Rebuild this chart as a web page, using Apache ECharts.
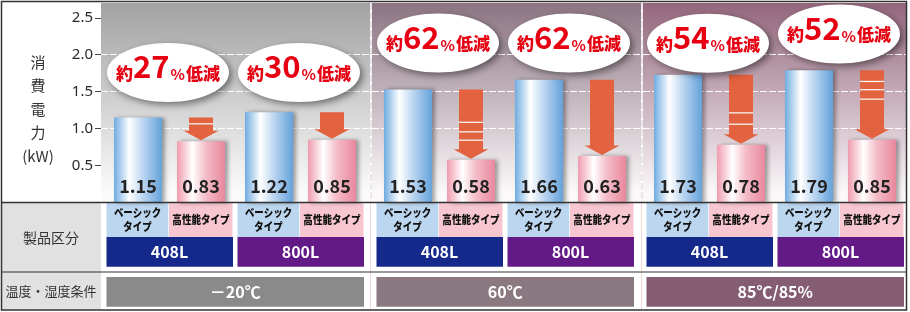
<!DOCTYPE html>
<html><head><meta charset="utf-8">
<script src="https://cdn.jsdelivr.net/npm/echarts@6/dist/echarts.min.js"></script>
<style>html,body{margin:0;padding:0;background:#fff}#c{width:910px;height:312px}</style>
</head><body><div id="c"></div>
<script>
// ---- data ----
const conditions = ['－20℃', '60℃', '85℃/85%'];
const capacities = ['408L', '800L'];
const typeLabels = ['ベーシック\nタイプ', '高性能タイプ'];
const basic = [1.15, 1.22, 1.53, 1.66, 1.73, 1.79];
const highPerf = [0.83, 0.85, 0.58, 0.63, 0.78, 0.85];
const reduction = [27, 30, 62, 62, 54, 52];
const yTicks = [0.5, 1.0, 1.5, 2.0, 2.5];
const yName = '消\n費\n電\n力\n(kW)';
const rowHeaders = ['製品区分', '温度・湿度条件'];

// ---- layout / style ----
const FAM = '"Noto Sans CJK JP","Noto Sans",sans-serif';
const panels = [[101, 370], [372, 641], [643, 906]];
const panelColors = [['#a2a2a2', '#fbfbfb'], ['#8c7482', '#fbf9fa'], ['#93667c', '#fbf8fa']];
const barGridLeft = [104, 374, 644];
const barGridW = 262;
const plotTop = 3, zeroY = 202.5;
const yMax = 2.7;
const bubbleY = [72.5, 72.5, 43, 43, 43.3, 34];
const stripes = [[0.48], [], [0.55, 0.71, 0.85], [], [0.64, 0.83], [0.19, 0.33, 0.49]];
const capColors = ['#14298a', '#631a87'];
const condColors = ['#8a8a8a', '#8a7981', '#845d73'];

const chart = echarts.init(document.getElementById('c'), null, {renderer: 'canvas'});

const grids = [], xAxes = [], yAxes = [], series = [];
panels.forEach((p, i) => {
  grids.push({left: p[0], top: plotTop, width: p[1] - p[0], height: zeroY - plotTop, show: true, borderWidth: 0,
    backgroundColor: {type: 'linear', x: 0, y: 0, x2: 0, y2: 1, colorStops: [{offset: 0, color: panelColors[i][0]}, {offset: 0.95, color: panelColors[i][1]}]}});
  xAxes.push({gridIndex: i, type: 'category', data: capacities, show: false});
  yAxes.push({gridIndex: i, type: 'value', min: 0, max: yMax, interval: 0.5,
    axisLine: {show: false},
    axisTick: {show: i === 0, length: 6, customValues: yTicks, lineStyle: {color: '#444'}},
    axisLabel: {show: i === 0, customValues: yTicks, formatter: v => v.toFixed(1), color: '#2a2a2a', fontSize: 15, fontFamily: '"Noto Sans",sans-serif', margin: 8},
    splitLine: {show: true, showMinLine: false, showMaxLine: false, lineStyle: {color: '#ffffff', type: [7, 2], width: 1}}
  });
});
barGridLeft.forEach((l, g) => {
  const gi = 3 + g;
  grids.push({left: l, top: plotTop, width: barGridW, height: zeroY - plotTop});
  xAxes.push({gridIndex: gi, type: 'category', data: capacities, show: false});
  yAxes.push({gridIndex: gi, type: 'value', min: 0, max: yMax, interval: 0.5, show: false, splitLine: {show: false}});
  const lab = {show: true, position: 'insideBottom', distance: 7, fontSize: 18, fontWeight: 'bold', color: '#222', fontFamily: FAM, formatter: d => d.value.toFixed(2)};
  const shadow = {shadowColor: 'rgba(0,0,0,0.35)', shadowBlur: 4, shadowOffsetX: 3, shadowOffsetY: 0};
  series.push({type: 'bar', name: 'ベーシックタイプ', xAxisIndex: gi, yAxisIndex: gi, barWidth: 48, barGap: '31.25%',
    data: [basic[2 * g], basic[2 * g + 1]], label: lab,
    itemStyle: Object.assign({color: new echarts.graphic.LinearGradient(0, 0, 1, 0, [
      {offset: 0, color: '#70ace0'}, {offset: 0.32, color: '#ffffff'}, {offset: 0.6, color: '#bcd6f1'}, {offset: 1, color: '#64a2db'}])}, shadow)});
  series.push({type: 'bar', name: '高性能タイプ', xAxisIndex: gi, yAxisIndex: gi, barWidth: 48, barGap: '31.25%',
    data: [highPerf[2 * g], highPerf[2 * g + 1]], label: lab,
    itemStyle: Object.assign({color: new echarts.graphic.LinearGradient(0, 0, 1, 0, [
      {offset: 0, color: '#ef9bae'}, {offset: 0.32, color: '#ffffff'}, {offset: 0.6, color: '#f4bcc8'}, {offset: 1, color: '#e9879d'}])}, shadow)});
  series.push({type: 'custom', xAxisIndex: gi, yAxisIndex: gi, z: 5,
    data: [0, 1].map(k => [k, basic[2 * g + k], highPerf[2 * g + k], 2 * g + k]),
    renderItem: (params, api) => {
      const cat = api.value(0), idx = api.value(3);
      const top = api.coord([cat, api.value(1)]);
      const tip = api.coord([cat, api.value(2)]);
      const cx = top[0] + 31.5, y0 = top[1], y1 = tip[1] - 1, yh = y1 - 9.5;
      const ch = [{type: 'polygon', shape: {points: [[cx - 12, y0], [cx + 12, y0], [cx + 12, yh], [cx + 17.5, yh], [cx, y1], [cx - 17.5, yh], [cx - 12, yh]]},
        style: {fill: '#e3623f'}}];
      stripes[idx].forEach(f => {
        const y = y0 + f * (yh - y0);
        ch.push({type: 'rect', shape: {x: cx - 12, y: y - 0.6, width: 24, height: 1.2}, style: {fill: '#ffffff'}});
      });
      return {type: 'group', children: ch};
    }});
  series.push({type: 'custom', xAxisIndex: gi, yAxisIndex: gi, z: 6,
    data: [0, 1].map(k => [k, 2 * g + k]),
    renderItem: (params, api) => {
      const cat = api.value(0), idx = api.value(1);
      const p = api.coord([cat, 0]);
      const cx = p[0] - 1.5, cy = bubbleY[idx];
      return {type: 'group', children: [
        {type: 'ellipse', shape: {cx: cx, cy: cy, rx: 61, ry: 29.5},
          style: {fill: '#ffffff', shadowColor: 'rgba(0,0,0,0.45)', shadowBlur: 7, shadowOffsetX: 3, shadowOffsetY: 3}},
        {type: 'text', x: cx, y: cy + 9.5, style: {
          text: '{a|約}{b|' + reduction[idx] + '}{c|%}{a|低減}',
          align: 'center', textAlign: 'center', verticalAlign: 'bottom', textVerticalAlign: 'bottom',
          rich: {
            a: {fontSize: 17, lineHeight: 17, fontWeight: 900, fill: '#e60012', color: '#e60012', fontFamily: FAM, verticalAlign: 'bottom'},
            b: {fontSize: 31, lineHeight: 24, fontWeight: 'bold', fill: '#e60012', color: '#e60012', fontFamily: FAM, verticalAlign: 'bottom'},
            c: {fontSize: 15, lineHeight: 15, fontWeight: 'bold', fill: '#e60012', color: '#e60012', fontFamily: FAM, verticalAlign: 'bottom', padding: [0, 1, 0, 1]}
          }}}
      ]};
    }});
});

// ---- table & frame (graphic) ----
const gc = [];
barGridLeft.forEach(l => { gc.push(l + barGridW * 0.25, l + barGridW * 0.75); });
const T = {top: 202, typeTop: 203, capTop: 237, capBot: 266.7, div: 272, condTop: 277, condBot: 306.7, bot: 309.8};
function txt(x, y, text, font, fill, extra, sx) {
  return {type: 'text', x: x, y: y, z: 3, scaleX: sx || 1, style: Object.assign({text: text, font: font, fill: fill,
    align: 'center', verticalAlign: 'middle', textAlign: 'center', textVerticalAlign: 'middle'}, extra || {})};
}
const el = [];
el.push({type: 'rect', shape: {x: 2, y: T.top, width: 99, height: T.bot - T.top}, style: {fill: '#e1e1e1'}, z: 1});
gc.forEach((c, i) => {
  el.push({type: 'rect', shape: {x: c - 63, y: T.typeTop, width: 61.8, height: T.capTop - T.typeTop}, style: {fill: '#bcd6ef'}, z: 2});
  el.push({type: 'rect', shape: {x: c - 0.5, y: T.typeTop, width: 63.5, height: T.capTop - T.typeTop}, style: {fill: '#f7c6d0'}, z: 2});
  el.push({type: 'rect', shape: {x: c - 63, y: T.capTop, width: 126.5, height: T.capBot - T.capTop}, style: {fill: capColors[i % 2]}, z: 2});
  el.push(txt(c - 32, 220, typeLabels[0], '900 11.5px ' + FAM, '#111', {lineHeight: 14}, 0.82));
  el.push(txt(c + 31.5, 220, typeLabels[1], '900 11.5px ' + FAM, '#111', null, 0.83));
  el.push(txt(c, (T.capTop + T.capBot) / 2 + 0.5, capacities[i % 2], 'bold 16px ' + FAM, '#ffffff'));
});
conditions.forEach((t, p) => {
  const x0 = gc[2 * p] - 63, x1 = gc[2 * p + 1] + 63.5;
  el.push({type: 'rect', shape: {x: x0, y: T.condTop, width: x1 - x0, height: T.condBot - T.condTop}, style: {fill: condColors[p]}, z: 2});
  el.push(txt((x0 + x1) / 2, (T.condTop + T.condBot) / 2 + 0.5, t, 'bold 16px ' + FAM, '#ffffff'));
});
[370.5, 641.5].forEach(x => el.push({type: 'line', shape: {x1: x, y1: T.top, x2: x, y2: T.bot}, style: {stroke: '#f1d6d6', lineWidth: 1}, z: 1}));
[371, 642].forEach(x => el.push({type: 'line', shape: {x1: x, y1: 3, x2: x, y2: T.top}, style: {stroke: '#d8d0d4', lineWidth: 1, lineDash: [7, 2]}, z: 1}));
el.push(txt(51, 238, rowHeaders[0], '14px ' + FAM, '#333'));
el.push(txt(51, 291.5, rowHeaders[1], '13px ' + FAM, '#333'));
el.push(txt(38, 109, yName, '15px ' + FAM, '#333', {lineHeight: 23.5}));
// lines
el.push({type: 'line', shape: {x1: 2, y1: T.top + 0.5, x2: 906, y2: T.top + 0.5}, style: {stroke: '#333', lineWidth: 1.3}, z: 4});
el.push({type: 'line', shape: {x1: 2, y1: T.div, x2: 906, y2: T.div}, style: {stroke: '#333', lineWidth: 1.2}, z: 4});
el.push({type: 'rect', shape: {x: 1.5, y: 1.5, width: 905, height: 308.5}, style: {fill: 'none', stroke: '#333', lineWidth: 1.5}, z: 4});

chart.setOption({
  animation: false,
  grid: grids, xAxis: xAxes, yAxis: yAxes, series: series,
  graphic: {elements: el}
});
</script></body></html>
